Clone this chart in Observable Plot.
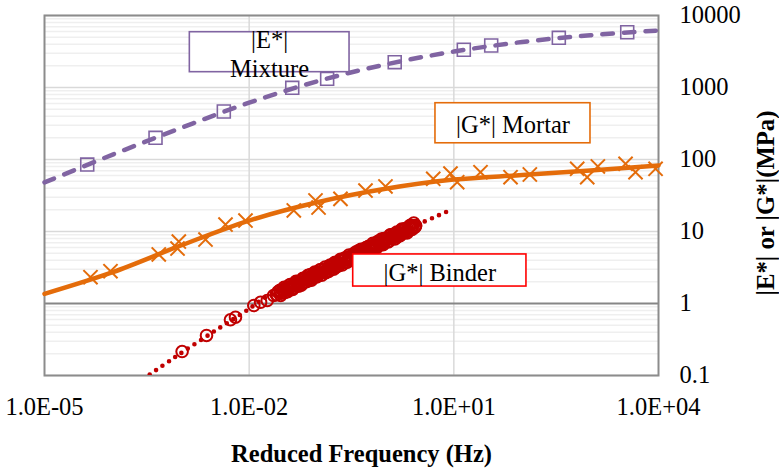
<!DOCTYPE html>
<html><head><meta charset="utf-8">
<script src="https://cdn.jsdelivr.net/npm/d3@7"></script>
<script src="https://cdn.jsdelivr.net/npm/@observablehq/plot@0.6"></script>
<style>
html,body{margin:0;padding:0;background:#fff;}
#chart{width:779px;height:468px;}
</style>
</head><body><div id="chart"></div>
<script>
// ---- data ----
const xTicks = [1e-5, 1e-2, 1e1, 1e4];
const xTickLabels = ["1.0E-05", "1.0E-02", "1.0E+01", "1.0E+04"];
const yTicks = [0.1, 1, 10, 100, 1000, 10000];
const yTickLabels = ["0.1", "1", "10", "100", "1000", "10000"];

// |E*| Mixture: measured points (squares) and fitted master curve (dashed)
const mixFreq = [4.23e-5, 4.24e-4, 4.25e-3, 0.0428, 0.139, 1.36, 14.0, 35.3, 346, 3480];
const mixE    = [85, 200, 464, 990, 1321, 2246, 3340, 3830, 4900, 5860];
const mixFitFreq = [1e-5, 1e-4, 1e-3, 1e-2, 1e-1, 1, 10, 100, 1000, 1e4];
const mixFitE    = [48, 117, 274, 615, 1220, 2090, 3155, 4285, 5320, 6190];

// |G*| Mortar: measured points (crosses) and fitted curve (solid)
const morFreq = [4.72e-5, 9.27e-5, 4.73e-4, 9.31e-4, 8.91e-4, 2.29e-3, 4.50e-3, 8.83e-3, 0.0451, 0.0938,
                 0.104, 0.218, 0.507, 0.995, 4.99, 11.2, 8.93, 24.6, 67.8, 130, 643, 902, 1291, 3289, 4603, 9057];
const morG    = [2.32, 2.81, 4.80, 7.26, 5.80, 7.74, 12.5, 14.2, 19.6, 27.0,
                 21.5, 28.4, 37.1, 42.2, 54.0, 48.4, 63.9, 66.6, 56.8, 61.9, 74.3, 56.8, 80.0, 87.1, 66.6, 74.3];
const morFitFreq = [1e-5, 1e-4, 1e-3, 1e-2, 1e-1, 1, 10, 100, 1000, 1e4];
const morFitG    = [1.36, 2.72, 6.4, 14.2, 25.5, 39.2, 52.6, 60.8, 70.3, 82.6];

// |G*| Binder: measured points (circles) and model (dotted)
const binFreq = [1.04e-3, 2.37e-3, 5.32e-3, 6.3e-3, 0.0117, 0.0147, 0.0184, 0.0228, 0.0250, 0.0265,
  0.0282, 0.0299, 0.0316, 0.0335, 0.0355, 0.0376, 0.0398, 0.0422, 0.0447, 0.0473,
  0.0501, 0.0531, 0.0562, 0.0596, 0.0631, 0.0668, 0.0708, 0.0750, 0.0794, 0.0841,
  0.0891, 0.0944, 0.100, 0.106, 0.112, 0.119, 0.126, 0.133, 0.141, 0.150,
  0.158, 0.168, 0.178, 0.188, 0.200, 0.211, 0.224, 0.237, 0.251, 0.266,
  0.282, 0.299, 0.316, 0.335, 0.355, 0.376, 0.398, 0.422, 0.447, 0.473,
  0.501, 0.531, 0.562, 0.596, 0.631, 0.668, 0.708, 0.750, 0.794, 0.841,
  0.891, 0.944, 1.00, 1.06, 1.12, 1.19, 1.26, 1.33, 1.41, 1.50,
  1.58, 1.68, 1.78, 1.88, 2.00, 2.11, 2.24, 2.37, 2.51, 2.66, 2.75,
  0.0290, 0.0307, 0.0325, 0.0345, 0.0365, 0.0387, 0.0410, 0.0434, 0.0460, 0.0487,
  0.0516, 0.0547, 0.0579, 0.0613, 0.0650, 0.0688, 0.0729, 0.0772, 0.0818, 0.0867,
  0.0918, 0.0973, 0.103, 0.109, 0.116, 0.122, 0.130, 0.137, 0.146, 0.154,
  0.163, 0.173, 0.183, 0.194, 0.206, 0.218, 0.231, 0.244, 0.259, 0.274,
  0.290, 0.307, 0.325, 0.345, 0.365, 0.387, 0.410, 0.434, 0.460, 0.487,
  0.516, 0.547, 0.579, 0.613, 0.650, 0.688, 0.729, 0.772, 0.818, 0.867,
  0.918, 0.973, 1.03, 1.09, 1.16, 1.22, 1.30, 1.37, 1.46, 1.54,
  1.63, 1.73, 1.83, 1.94, 2.06, 2.18, 2.31, 2.44, 2.59, 2.74];
const binG = [0.215, 0.36, 0.594, 0.645, 0.938, 1.04, 1.10, 1.29, 1.33, 1.45,
  1.521, 1.393, 1.533, 1.421, 1.675, 1.588, 1.830, 1.601, 1.824, 1.748,
  2.015, 1.742, 1.985, 2.110, 1.955, 2.279, 2.160, 2.071, 2.529, 2.424,
  2.324, 2.649, 2.397, 2.639, 2.939, 2.691, 2.996, 2.681, 3.090, 3.325,
  3.008, 3.311, 3.688, 3.187, 3.674, 3.563, 3.968, 3.675, 4.284, 3.790,
  4.171, 4.487, 4.016, 4.847, 4.488, 4.885, 5.377, 4.756, 5.357, 4.905,
  5.784, 5.546, 6.248, 5.525, 6.153, 5.968, 6.879, 6.015, 7.095, 7.123,
  6.750, 7.962, 7.375, 8.024, 7.348, 8.971, 8.403, 8.244, 9.396, 8.503,
  9.579, 10.30, 9.544, 10.63, 9.842, 10.83, 11.93, 11.05, 12.02, 11.39, 12.12,
  1.298, 1.548, 1.685, 1.525, 1.462, 1.785, 1.692, 1.567, 1.913, 2.035,
  1.800, 1.981, 1.793, 2.240, 2.198, 2.013, 2.457, 2.224, 2.108, 2.544,
  2.736, 2.338, 2.603, 2.934, 2.477, 2.923, 3.217, 2.846, 2.792, 3.408,
  3.268, 2.992, 3.738, 3.667, 3.357, 4.100, 3.422, 3.992, 4.293, 3.754,
  4.691, 4.245, 4.024, 4.857, 5.164, 4.516, 4.972, 5.664, 4.730, 5.643,
  6.001, 5.187, 6.048, 5.411, 6.839, 6.335, 6.004, 7.331, 6.559, 7.826,
  6.535, 7.888, 7.828, 7.167, 8.954, 8.011, 9.129, 7.891, 9.858, 9.238,
  8.753, 10.81, 9.563, 11.02, 9.528, 11.37, 12.23, 10.69, 13.06, 11.82];
const binFitFreq = [2.82e-4, 8.13e-4, 3.21e-3, 9.68e-3, 0.0162, 0.0566, 0.218, 2.74, 8.07];
const binFitG    = [0.09, 0.179, 0.422, 0.826, 1.17, 1.97, 4.08, 12.1, 19.0];

// annotation boxes (data units)
const boxText  = ["|E*|\nMixture", "|G*| Mortar", "|G*| Binder"];
const boxColor = ["#8064A2", "#E46C0A", "#FF0000"];
const boxX1 = [1.35e-3, 5.38, 0.335], boxX2 = [0.296, 1007, 116];
const boxY1 = [1632, 168, 1.72], boxY2 = [5860, 605, 4.80];
const boxTx = [0.0199, 73.8, 6.24], boxTy = [2990, 314, 2.82];

const xTitle = "Reduced Frequency (Hz)";
const yTitle = "|E*| or |G*|(MPa)";

// ---- build tables ----
const zip = (xs, ys) => xs.map((x, i) => ({x, y: ys[i]}));
const mixPts = zip(mixFreq, mixE), mixFit = zip(mixFitFreq, mixFitE);
const morPts = zip(morFreq, morG), morFit = zip(morFitFreq, morFitG);
const binPts = zip(binFreq, binG), binFit = zip(binFitFreq, binFitG);
const boxes = boxText.map((t, i) => ({t, c: boxColor[i], x1: boxX1[i], x2: boxX2[i], y1: boxY1[i], y2: boxY2[i], tx: boxTx[i], ty: boxTy[i]}));

const minor = [];
for (const d of yTicks.slice(0, -1)) for (let k = 2; k <= 9; k++) minor.push(d * k);

const FONT = "'Liberation Serif','Times New Roman',Times,serif";
const chart = Plot.plot({
  width: 779, height: 468,
  marginLeft: 44, marginRight: 121, marginTop: 15, marginBottom: 93,
  style: {fontFamily: FONT, fontSize: "24.5px", background: "#fff", color: "#000"},
  x: {type: "log", domain: [1e-5, 1e4]},
  y: {type: "log", domain: [0.1, 10000]},
  marks: [
    Plot.ruleY(minor, {stroke: "#efefef", strokeWidth: 1.5}),
    Plot.ruleY(yTicks.filter(d => d !== 1), {stroke: "#d9d9d9", strokeWidth: 1.5}),
    Plot.ruleX(xTicks.slice(1, -1), {stroke: "#d9d9d9", strokeWidth: 1.5}),
    Plot.ruleY([1], {stroke: "#868686", strokeWidth: 1.8}),
    Plot.frame({stroke: "#8c8c8c", strokeWidth: 2}),
    Plot.axisX({ticks: xTicks, tickSize: 0, tickPadding: 22, fontSize: 24.5, fontFamily: FONT,
      tickFormat: d => xTickLabels[xTicks.indexOf(d)]}),
    Plot.axisY({anchor: "right", ticks: yTicks, tickSize: 0, tickPadding: 21, fontSize: 24.5, fontFamily: FONT,
      textAnchor: "start", tickFormat: d => yTickLabels[yTicks.indexOf(d)]}),
    Plot.line(mixFit, {x: "x", y: "y", stroke: "#8064A2", strokeWidth: 4.5, strokeDasharray: "10.5,11", strokeLinecap: "round", curve: "catmull-rom"}),
    Plot.dot(mixPts, {x: "x", y: "y", symbol: "square", r: 7.3, stroke: "#8064A2", strokeWidth: 1.6, fill: "none"}),
    Plot.line(morFit, {x: "x", y: "y", stroke: "#E46C0A", strokeWidth: 4.5, curve: "catmull-rom"}),
    Plot.dot(morPts, {x: "x", y: "y", symbol: "times", r: 6.5, stroke: "#E46C0A", strokeWidth: 2}),
    Plot.line(binFit, {x: "x", y: "y", stroke: "#C00000", strokeWidth: 4.6, strokeDasharray: "0,7.7", strokeLinecap: "round", curve: "catmull-rom", clip: true}),
    Plot.dot(binPts, {x: "x", y: "y", r: 5.8, stroke: "#C00000", strokeWidth: 2, fill: "none"}),
    Plot.rect(boxes, {x1: "x1", x2: "x2", y1: "y1", y2: "y2", fill: "#fff", stroke: "c", strokeWidth: 1.6}),
    Plot.text(boxes, {x: "tx", y: "ty", text: "t", fontSize: 24.5, fontFamily: FONT, fill: "#000", lineHeight: 1.2}),
    Plot.text([xTitle], {frameAnchor: "bottom", dx: 10, dy: 86, fontSize: 24.5, fontFamily: FONT, fontWeight: "bold", fill: "#000"}),
    Plot.text([yTitle], {frameAnchor: "right", textAnchor: "middle", dx: 108, dy: 7.5, rotate: -90, fontSize: 24.5, fontFamily: FONT, fontWeight: "bold", fill: "#000"})
  ]
});
// stretch the vertical title along its length as in the reference
for (const t of chart.querySelectorAll("text")) {
  if (t.textContent === yTitle) { t.setAttribute("textLength", 185); t.setAttribute("lengthAdjust", "spacingAndGlyphs"); }
}
document.getElementById("chart").append(chart);
</script>
</body></html>
